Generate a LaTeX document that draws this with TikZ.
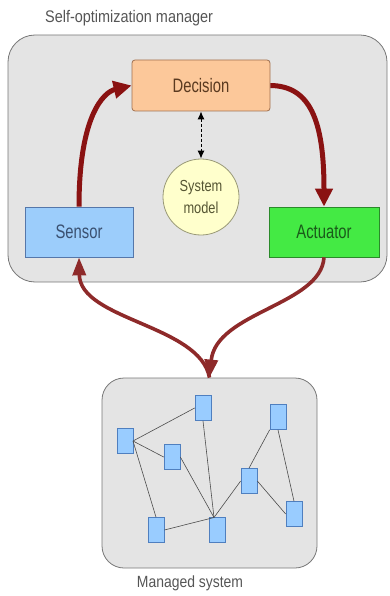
\documentclass[tikz,border=0pt]{standalone}
\usepackage{fontspec}
\usetikzlibrary{arrows.meta}
\newfontfamily\nfa[FakeStretch=0.76]{Liberation Sans}
\newfontfamily\nfb[FakeStretch=0.86]{Liberation Sans}
\newfontfamily\nfc[FakeStretch=0.8]{Liberation Sans}
\definecolor{mgrfill}{HTML}{E4E4E4}
\definecolor{mgrline}{HTML}{777777}
\definecolor{decfill}{HTML}{FCC89A}
\definecolor{decline}{HTML}{A07050}
\definecolor{dectext}{HTML}{5A3A20}
\definecolor{senfill}{HTML}{9CCDFB}
\definecolor{senline}{HTML}{5577AA}
\definecolor{sentext}{HTML}{3A5070}
\definecolor{actfill}{HTML}{44EA44}
\definecolor{actline}{HTML}{2A8A2A}
\definecolor{acttext}{HTML}{1A5A1A}
\definecolor{modfill}{HTML}{FFFFCC}
\definecolor{modline}{HTML}{999977}
\definecolor{modtext}{HTML}{555533}
\definecolor{darkred}{HTML}{8A1212}
\definecolor{lowred}{HTML}{8E2A2A}
\definecolor{labgray}{HTML}{555555}
\definecolor{cellfill}{HTML}{99CCFF}
\definecolor{cellline}{HTML}{4F7FBF}
\tikzset{
  box/.style={draw=mgrline, fill=mgrfill, line width=0.8pt},
  unit/.style={rectangle, line width=0.8pt, font=\nfa\fontsize{19.5}{22}\selectfont, inner sep=0pt},
  bigred/.style={draw=darkred, line width=5pt, -{Triangle[length=18pt,width=17pt]}},
  lowarrow/.style={draw=lowred, line width=3.6pt, -{Triangle[length=18pt,width=13pt]}},
  cell/.style={rectangle, draw=cellline, fill=cellfill, line width=0.7pt, minimum width=16pt, minimum height=25pt, inner sep=0pt},
  link/.style={draw=black!70, line width=0.6pt},
  caption/.style={font=\nfb\fontsize{16.8}{20}\selectfont, text=labgray, inner sep=0pt}
}
\begin{document}
\begin{tikzpicture}[x=1pt,y=-1pt]
\useasboundingbox (0,0) rectangle (389,596);
% containers
\node[box, rectangle, rounded corners=27pt, minimum width=379pt, minimum height=247pt] (mgr) at (197.5,158.5) {};
\node[box, rectangle, rounded corners=22pt, minimum width=215pt, minimum height=190pt] (sys) at (209.5,473) {};
\node[caption, anchor=west] (title) at (45,18.5) {Self-optimization manager};
\node[caption, font=\nfb\fontsize{16.2}{20}\selectfont] (syslabel) at (190,583) {Managed system};
% units
\node[unit, draw=decline, fill=decfill, text=dectext, rounded corners=3pt, minimum width=138pt, minimum height=51pt] (decision) at (201,85.5) {Decision};
\node[unit, draw=senline, fill=senfill, text=sentext, minimum width=108pt, minimum height=50pt] (sensor) at (79,232) {Sensor};
\node[unit, draw=actline, fill=actfill, text=acttext, minimum width=110pt, minimum height=50pt] (actuator) at (324,232) {Actuator};
\node[circle, draw=modline, fill=modfill, text=modtext, line width=0.8pt, minimum size=76pt, inner sep=0pt, align=center, font=\nfc\fontsize{16}{22}\selectfont] (model) at (201,197) {System\\model};
% arrows
\draw[black, line width=1pt, dash pattern=on 3pt off 2pt, {Latex[length=8pt,width=7pt]}-{Latex[length=8pt,width=7pt]}] (decision.south) -- (model.north);
\draw[bigred] (sensor.north) .. controls (79,115) and (104,92) .. (decision.west);
\draw[bigred] (decision.east) .. controls (310,86) and (324,120) .. (actuator.north);
\draw[lowarrow] (actuator.south) .. controls (321,305) and (216,312) .. (sys.north);
\draw[lowarrow] (sys.north) .. controls (200,325) and (80,320) .. (sensor.south);
% managed system cells
\node[cell] (n1) at (203,408) {};
\node[cell] (n2) at (278,417) {};
\node[cell] (n3) at (125,441) {};
\node[cell] (n4) at (172,457) {};
\node[cell] (n5) at (249,481) {};
\node[cell] (n6) at (294,514) {};
\node[cell] (n7) at (156,530) {};
\node[cell] (n8) at (217,530) {};
\coordinate (hub) at (214,517.5);
\coordinate (c3) at (133,441);
\draw[link] (c3) -- (n1.west);
\draw[link] (c3) -- (n4.west);
\draw[link] (c3) -- (n7.north);
\draw[link] (n1.south) -- (hub);
\draw[link] (n4.east) -- (hub);
\draw[link] (n7.east) -- (hub);
\draw[link] (hub) -- (n5.west);
\draw[link] (n5.north) -- (n2.south west);
\draw[link] (n5.east) -- (n6.west);
\draw[link] (n2.south) -- (n6.north);
\end{tikzpicture}
\end{document}
